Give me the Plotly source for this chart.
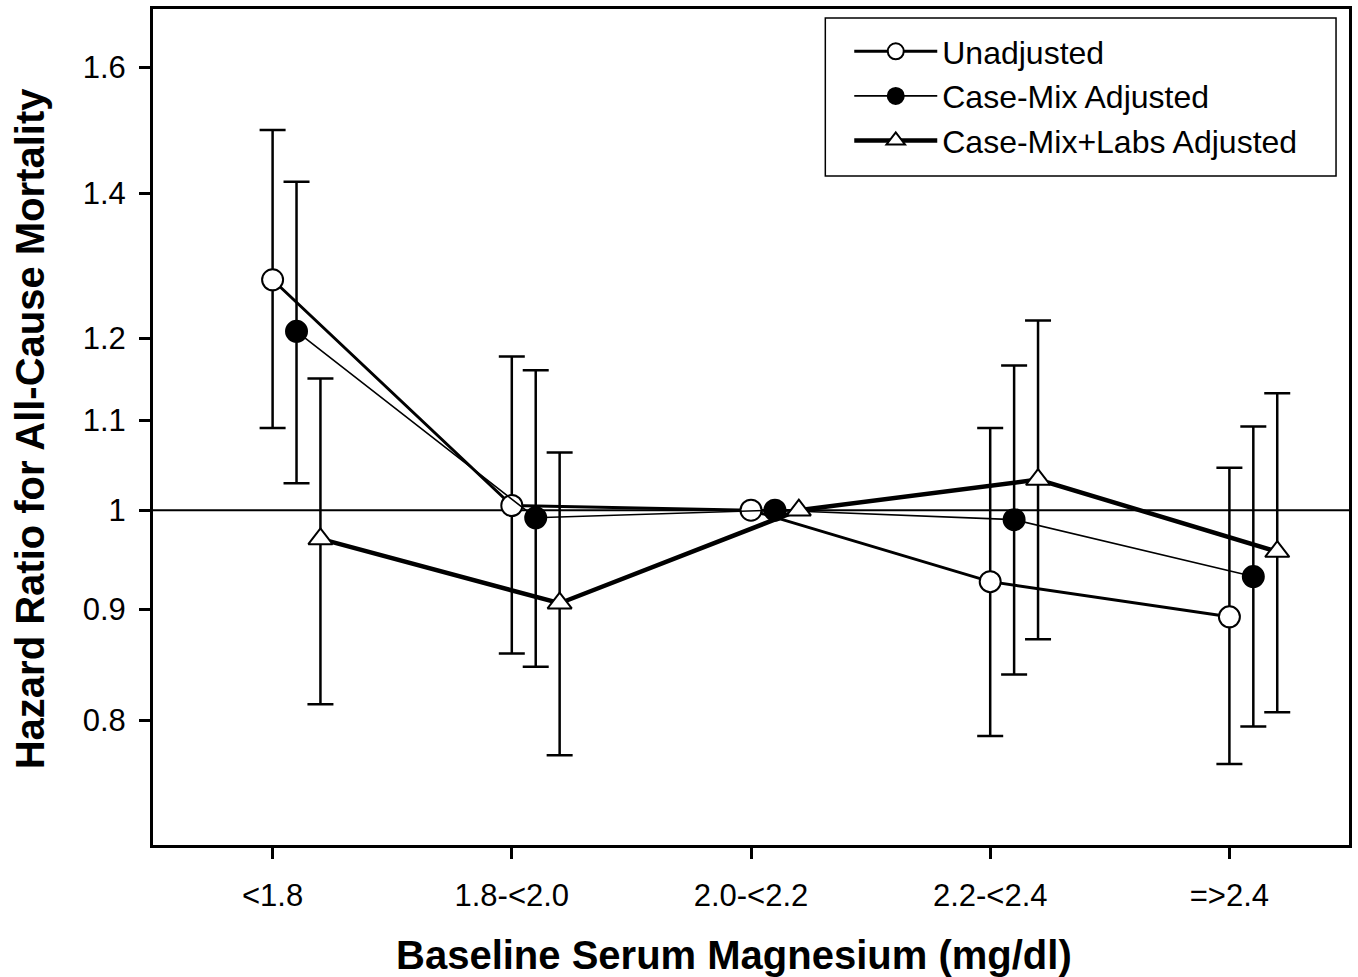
import plotly.graph_objects as go
import math

categories = ["<1.8", "1.8-<2.0", "2.0-<2.2", "2.2-<2.4", "=>2.4"]

unadj_hr = [1.277, 1.005, 1.0, 0.927, 0.893]
unadj_lo = [1.091, 0.859, None, 0.787, 0.764]
unadj_hi = [1.497, 1.177, None, 1.091, 1.046]

cm_hr = [1.209, 0.992, 1.0, 0.990, 0.932]
cm_lo = [1.029, 0.847, None, 0.840, 0.795]
cm_hi = [1.417, 1.160, None, 1.166, 1.093]

labs_hr = [0.970, 0.906, 1.0, 1.033, 0.957]
labs_lo = [0.814, 0.771, None, 0.872, 0.807]
labs_hi = [1.150, 1.063, None, 1.223, 1.132]

y_ticks = [0.8, 0.9, 1.0, 1.1, 1.2, 1.4, 1.6]
y_ticktext = ["0.8", "0.9", "1", "1.1", "1.2", "1.4", "1.6"]

FONT = "Liberation Sans, Arial, sans-serif"


def err(hr, lo, hi):
    plus = [(h - v) if h is not None else 0 for v, h in zip(hr, hi)]
    minus = [(v - l) if l is not None else 0 for v, l in zip(hr, lo)]
    return plus, minus


fig = go.Figure()

# reference line at HR = 1
fig.add_trace(go.Scatter(x=[-0.5, 4.5], y=[1, 1], mode="lines",
                         line=dict(color="black", width=2),
                         showlegend=False, hoverinfo="skip"))

series = [
    ("Unadjusted", unadj_hr, unadj_lo, unadj_hi, 0.0, 3.0,
     dict(symbol="circle", color="white", size=21, line=dict(color="black", width=2))),
    ("Case-Mix Adjusted", cm_hr, cm_lo, cm_hi, 0.1, 1.6,
     dict(symbol="circle", color="black", size=21, line=dict(color="black", width=2))),
    ("Case-Mix+Labs Adjusted", labs_hr, labs_lo, labs_hi, 0.2, 4.5,
     dict(symbol="triangle-up", color="white", size=21, line=dict(color="black", width=2))),
]

for name, hr, lo, hi, off, lw, mk in series:
    plus, minus = err(hr, lo, hi)
    xs = [i + off for i in range(len(categories))]
    fig.add_trace(go.Scatter(
        x=xs, y=hr, name=name, mode="lines+markers",
        line=dict(color="black", width=lw),
        marker=mk,
        error_y=dict(type="data", symmetric=False, array=plus, arrayminus=minus,
                     color="black", thickness=2.5, width=13),
    ))

fig.update_layout(
    width=1358, height=977,
    margin=dict(l=153, r=6, t=9, b=132),
    paper_bgcolor="white", plot_bgcolor="white",
    font=dict(family=FONT, color="black", size=30),
    showlegend=True,
    legend=dict(x=(851 - 153) / 1199, y=(845 - 24) / 836, xanchor="left", yanchor="top",
                bgcolor="rgba(0,0,0,0)", borderwidth=0,
                font=dict(size=32, family=FONT), itemwidth=83,
                tracegroupgap=0),
    shapes=[dict(type="rect", xref="paper", yref="paper",
                 x0=(827 - 153) / 1199, x1=(1339 - 153) / 1199,
                 y0=(845 - 176) / 836, y1=(845 - 18) / 836,
                 line=dict(color="black", width=1.5), fillcolor="rgba(0,0,0,0)")],
    annotations=[
        dict(text="<b>Baseline Serum Magnesium (mg/dl)</b>", xref="paper", yref="paper",
             x=(735 - 153) / 1199, y=(845 - 955) / 836, xanchor="center", yanchor="middle",
             showarrow=False, font=dict(size=40, family=FONT)),
        dict(text="<b>Hazard Ratio for All-Cause Mortality</b>", xref="paper", yref="paper",
             x=(30 - 153) / 1199, y=(845 - 428) / 836, xanchor="center", yanchor="middle",
             textangle=-90, showarrow=False, font=dict(size=40, family=FONT)),
    ],
)

fig.update_xaxes(range=[-0.5, 4.5], tickmode="array", tickvals=list(range(len(categories))),
                 ticktext=categories, showgrid=False, zeroline=False,
                 showline=True, linecolor="black", linewidth=3, mirror=True,
                 ticks="outside", ticklen=11, tickwidth=3, tickcolor="black",
                 tickfont=dict(size=31, family=FONT), ticklabelstandoff=10)
fig.update_yaxes(type="log", range=[math.log10(0.701), math.log10(1.702)],
                 tickmode="array", tickvals=y_ticks, ticktext=y_ticktext,
                 showgrid=False, zeroline=False,
                 showline=True, linecolor="black", linewidth=3, mirror=True,
                 ticks="outside", ticklen=11, tickwidth=3, tickcolor="black",
                 tickfont=dict(size=31, family=FONT), ticklabelstandoff=7)

fig.write_html("out.html")
